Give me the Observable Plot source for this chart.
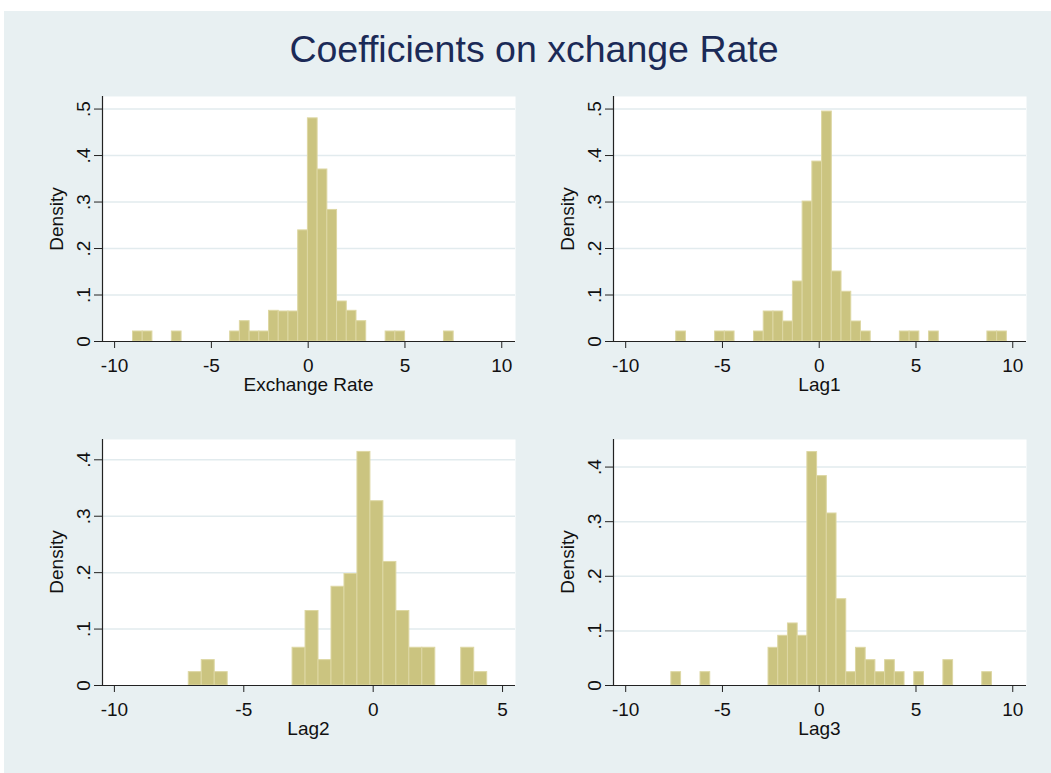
<!DOCTYPE html>
<html><head><meta charset="utf-8">
<script src="https://cdn.jsdelivr.net/npm/d3@7"></script>
<script src="https://cdn.jsdelivr.net/npm/@observablehq/plot@0.6"></script>
<style>
body{margin:0;background:#fff;font-family:"Liberation Sans",Arial,sans-serif;}
#bg{position:absolute;left:4px;top:11px;width:1047px;height:762px;background:#e8f0f2;}
.lab{position:absolute;font-size:19px;line-height:19px;color:#111;white-space:nowrap;}
.ttl{position:absolute;font-size:37.5px;line-height:37.5px;color:#1b2a57;white-space:nowrap;}
.pnl{position:absolute;}
</style></head><body>
<div id="bg"></div>
<div id="root"></div>
<script>
// ---------- data ----------
const chartTitle = "Coefficients on xchange Rate";
const panelTitles = ["Exchange Rate", "Lag1", "Lag2", "Lag3"];
const yLabel = "Density";

// Exchange Rate histogram: bin start, bin width, bin indices, densities
const exStart = -9.05, exWidth = 0.502;
const exBins = [0, 1, 4, 10, 11, 12, 13, 14, 15, 16, 17, 18, 19, 20, 21, 22, 23, 26, 27, 32];
const exDensity = [0.0215, 0.0215, 0.0215, 0.0215, 0.0437, 0.0215, 0.0215, 0.066, 0.0645, 0.0645, 0.239, 0.48, 0.37, 0.283, 0.086, 0.066, 0.0437, 0.0215, 0.0215, 0.0215];

// Lag1
const lag1Start = -7.39, lag1Width = 0.5025;
const lag1Bins = [0, 4, 5, 8, 9, 10, 11, 12, 13, 14, 15, 16, 17, 18, 19, 23, 24, 26, 32, 33];
const lag1Density = [0.0215, 0.0215, 0.0215, 0.0215, 0.0645, 0.0645, 0.043, 0.129, 0.301, 0.387, 0.4946, 0.1505, 0.107, 0.043, 0.0215, 0.0215, 0.0215, 0.0215, 0.0215, 0.0215];

// Lag2
const lag2Start = -7.126, lag2Width = 0.5014;
const lag2Bins = [0, 1, 2, 8, 9, 10, 11, 12, 13, 14, 15, 16, 17, 18, 21, 22];
const lag2Density = [0.0237, 0.045, 0.0237, 0.0669, 0.132, 0.045, 0.175, 0.1976, 0.414, 0.3266, 0.219, 0.132, 0.0669, 0.0669, 0.0669, 0.0237];

// Lag3
const lag3Start = -7.64, lag3Width = 0.502;
const lag3Bins = [0, 3, 10, 11, 12, 13, 14, 15, 16, 17, 18, 19, 20, 21, 22, 23, 25, 28, 32];
const lag3Density = [0.0244, 0.0244, 0.069, 0.091, 0.1136, 0.091, 0.4275, 0.3835, 0.315, 0.158, 0.0244, 0.069, 0.0464, 0.0244, 0.0464, 0.0244, 0.0244, 0.0464, 0.0244];

// tick values
const xTicksWide = [-10, -5, 0, 5, 10];
const xTicksLag2 = [-10, -5, 0, 5];
const yTicksTop = [0, 0.1, 0.2, 0.3, 0.4, 0.5];
const yTicksBottom = [0, 0.1, 0.2, 0.3, 0.4];

// ---------- layout ----------
const panels = [
  {title: panelTitles[0], start: exStart, width: exWidth, bins: exBins, den: exDensity, xTicks: xTicksWide, yTicks: yTicksTop,
   left: 102, top: 96, w: 413, h: 245, xDomain: [-10.625, 10.71], yDomain: [0, 0.527]},
  {title: panelTitles[1], start: lag1Start, width: lag1Width, bins: lag1Bins, den: lag1Density, xTicks: xTicksWide, yTicks: yTicksTop,
   left: 613, top: 96, w: 413, h: 245, xDomain: [-10.63, 10.71], yDomain: [0, 0.527]},
  {title: panelTitles[2], start: lag2Start, width: lag2Width, bins: lag2Bins, den: lag2Density, xTicks: xTicksLag2, yTicks: yTicksBottom,
   left: 102, top: 439, w: 413, h: 246, xDomain: [-10.46, 5.50], yDomain: [0, 0.436]},
  {title: panelTitles[3], start: lag3Start, width: lag3Width, bins: lag3Bins, den: lag3Density, xTicks: xTicksWide, yTicks: yTicksBottom,
   left: 613, top: 439, w: 413, h: 246, xDomain: [-10.63, 10.71], yDomain: [0, 0.4505]}
];

const ML = 82, MR = 10, MT = 10, MB = 75;
const fmtY = v => v === 0 ? "0" : d3.format(".1f")(v).replace(/^0/, "");
const fmtX = v => String(v);
const root = document.getElementById("root");

function addDiv(cls, text, css) {
  const d = document.createElement("div");
  d.className = cls;
  d.textContent = text;
  Object.assign(d.style, css);
  root.appendChild(d);
  return d;
}

// title
addDiv("ttl", chartTitle, {left: "534px", top: "31px", transform: "translateX(-50%)"});

for (const p of panels) {
  const data = p.bins.map((k, i) => ({x1: p.start + k * p.width, x2: p.start + (k + 1) * p.width, d: p.den[i]}));
  const chart = Plot.plot({
    width: p.w + ML + MR, height: p.h + MT + MB,
    marginLeft: ML, marginRight: MR, marginTop: MT, marginBottom: MB,
    style: {fontFamily: '"Liberation Sans", Arial, sans-serif', fontSize: "19px", color: "#111", background: "transparent", overflow: "visible"},
    x: {domain: p.xDomain},
    y: {domain: p.yDomain},
    marks: [
      Plot.frame({fill: "white", stroke: "none"}),
      Plot.ruleY(p.yTicks.filter(v => v > 0), {stroke: "#e2ebee", strokeWidth: 1.5}),
      Plot.rect(data, {x1: "x1", x2: "x2", y1: 0, y2: "d", fill: "#cbc480", stroke: "#ddd7a3", strokeWidth: 1}),
      Plot.ruleY([0], {stroke: "#222", strokeWidth: 1.2}),
      Plot.ruleX([p.xDomain[0]], {stroke: "#222", strokeWidth: 1.2}),
      Plot.axisX({ticks: p.xTicks, tickSize: 7, tickPadding: 10, tickFormat: fmtX, label: null, stroke: "#222", fill: "#111"}),
      Plot.axisY({ticks: p.yTicks, tickSize: 8, tickPadding: 5, tickRotate: -90, tickFormat: fmtY, label: null, stroke: "#222", fill: "#111"})
    ]
  });
  const wrap = document.createElement("div");
  wrap.className = "pnl";
  wrap.style.left = (p.left - ML) + "px";
  wrap.style.top = (p.top - MT) + "px";
  wrap.appendChild(chart);
  root.appendChild(wrap);
  // axis titles
  addDiv("lab", p.title, {left: (p.left + p.w / 2) + "px", top: (p.top + p.h + 34) + "px", transform: "translateX(-50%)"});
  addDiv("lab", yLabel, {left: (p.left - 46) + "px", top: (p.top + p.h / 2) + "px", transform: "translate(-50%,-50%) rotate(-90deg)"});
}
</script>
</body></html>
